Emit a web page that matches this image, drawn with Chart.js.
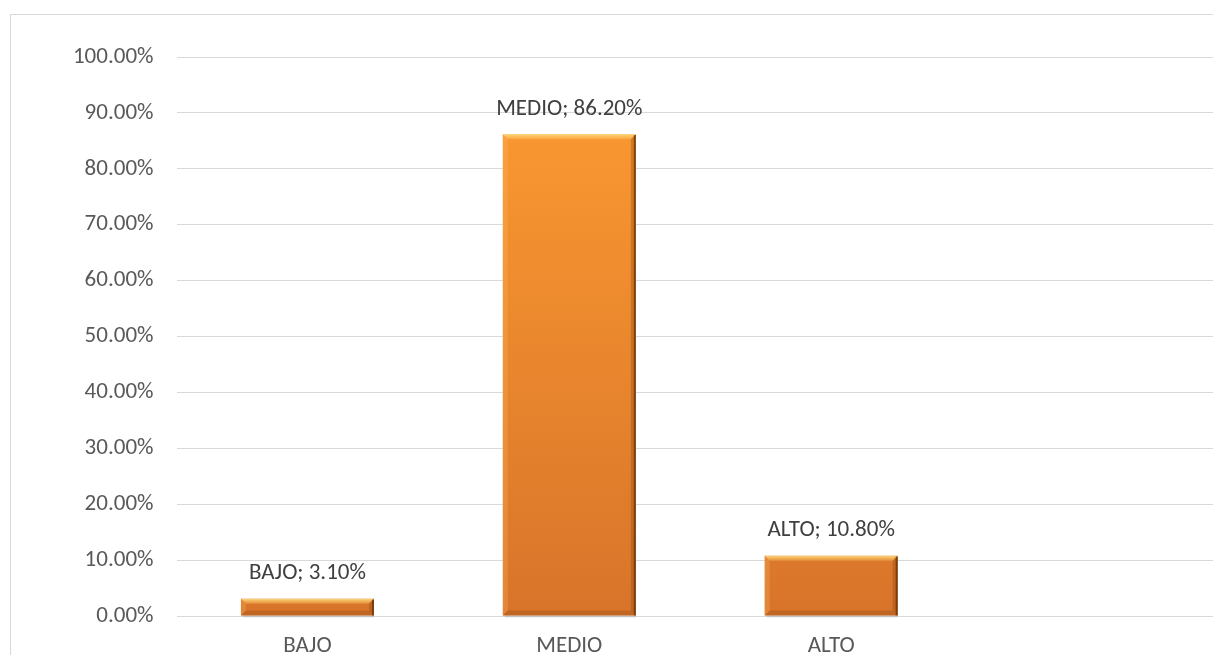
<!DOCTYPE html>
<html>
<head>
<meta charset="utf-8">
<script src="https://cdn.jsdelivr.net/npm/chart.js@4.4.1/dist/chart.umd.min.js"></script>
<style>
  html, body { margin: 0; padding: 0; background: #fff; overflow: hidden; width: 1213px; height: 655px; }
  .marco { position: absolute; left: 10px; top: 14px; width: 1260px; height: 700px; border: 1px solid #d9d9d9; }
  .lienzo { position: absolute; left: 0; top: 0; width: 1250px; height: 666px; }
</style>
</head>
<body>
<div class="marco"></div>
<div class="lienzo"><canvas id="chartNivel"></canvas></div>
<script>
// categorias y porcentajes
const categorias = ['BAJO', 'MEDIO', 'ALTO', ''];
const porcentajes = [3.10, 86.20, 10.80, null];
const ticksY = [0, 10, 20, 30, 40, 50, 60, 70, 80, 90, 100];

const fuente = 'Calibri, Carlito, "Open Sans", sans-serif';

// degradado naranja de cada barra
function rellenoBarra(ctx) {
  const area = ctx.chart.chartArea;
  if (!area) return '#f08a2a';
  const el = ctx.element;
  const top = el && el.y !== undefined ? el.y : area.top;
  const base = el && el.base !== undefined ? el.base : area.bottom;
  const g = ctx.chart.ctx.createLinearGradient(0, top, 0, base);
  g.addColorStop(0, '#fd9c32');
  g.addColorStop(1, '#d8742a');
  return g;
}

// biselado sobre cada barra
const biselPlugin = {
  id: 'bisel',
  afterDatasetsDraw(chart) {
    const c = chart.ctx;
    chart.getDatasetMeta(0).data.forEach((bar, i) => {
      if (porcentajes[i] == null) return;
      const x0 = bar.x - bar.width / 2, x1 = bar.x + bar.width / 2;
      const y0 = bar.y, y1 = bar.base;
      const b = Math.min(5, (y1 - y0) / 2.5);
      c.save();
      // arriba claro
      const gTop = c.createLinearGradient(0, y0, 0, y0 + b);
      gTop.addColorStop(0, 'rgba(255,226,140,0.9)');
      gTop.addColorStop(1, 'rgba(255,200,90,0.35)');
      c.fillStyle = gTop;
      c.beginPath(); c.moveTo(x0, y0); c.lineTo(x1, y0); c.lineTo(x1 - b, y0 + b); c.lineTo(x0 + b, y0 + b); c.closePath(); c.fill();
      // izquierda
      c.fillStyle = 'rgba(255,190,100,0.25)';
      c.beginPath(); c.moveTo(x0, y0); c.lineTo(x0 + b, y0 + b); c.lineTo(x0 + b, y1 - b); c.lineTo(x0, y1); c.closePath(); c.fill();
      // derecha oscura
      c.fillStyle = 'rgba(140,70,15,0.35)';
      c.beginPath(); c.moveTo(x1, y0); c.lineTo(x1, y1); c.lineTo(x1 - b, y1 - b); c.lineTo(x1 - b, y0 + b); c.closePath(); c.fill();
      c.fillStyle = 'rgba(95,45,5,0.7)';
      c.fillRect(x1 - 2, y0 + 1, 2, y1 - y0 - 1);
      // abajo
      c.fillStyle = 'rgba(150,75,20,0.35)';
      c.beginPath(); c.moveTo(x0, y1); c.lineTo(x1, y1); c.lineTo(x1 - b, y1 - b); c.lineTo(x0 + b, y1 - b); c.closePath(); c.fill();
      // sombra inferior
      c.fillStyle = 'rgba(0,0,0,0.10)';
      c.fillRect(x0 + 2, y1, bar.width - 2, 2);
      c.restore();
    });
  }
};

// etiqueta "CATEGORIA; valor%" sobre cada barra
const etiquetasPlugin = {
  id: 'etiquetas',
  afterDatasetsDraw(chart) {
    const c = chart.ctx;
    c.save();
    c.font = '23px ' + fuente;
    c.fillStyle = '#404040';
    c.textAlign = 'center';
    c.textBaseline = 'middle';
    chart.getDatasetMeta(0).data.forEach((bar, i) => {
      if (porcentajes[i] == null) return;
      c.fillText(categorias[i] + '; ' + porcentajes[i].toFixed(2) + '%', bar.x, bar.y - 25);
    });
    c.restore();
  }
};

new Chart(document.getElementById('chartNivel'), {
  type: 'bar',
  data: {
    labels: categorias,
    datasets: [{
      data: porcentajes,
      backgroundColor: rellenoBarra,
      borderWidth: 0,
      categoryPercentage: 1,
      barPercentage: 0.508
    }]
  },
  options: {
    responsive: true,
    maintainAspectRatio: false,
    animation: false,
    layout: { padding: { top: 57, right: 26, bottom: 0, left: 0 } },
    plugins: { legend: { display: false }, tooltip: { enabled: false } },
    scales: {
      x: {
        grid: { display: false, drawTicks: false },
        border: { display: false },
        ticks: { color: '#595959', font: { family: fuente, size: 23 }, padding: 16, maxRotation: 0 },
        afterFit: s => { s.height = 50; }
      },
      y: {
        min: 0,
        max: 100,
        afterBuildTicks: s => { s.ticks = ticksY.map(v => ({ value: v })); },
        grid: { color: '#d9d9d9', lineWidth: 1, drawTicks: false },
        border: { display: false },
        ticks: {
          color: '#595959',
          font: { family: fuente, size: 23 },
          padding: 23,
          callback: v => v.toFixed(2) + '%'
        },
        afterFit: s => { s.width = 176.5; }
      }
    }
  },
  plugins: [biselPlugin, etiquetasPlugin]
});
</script>
</body>
</html>
